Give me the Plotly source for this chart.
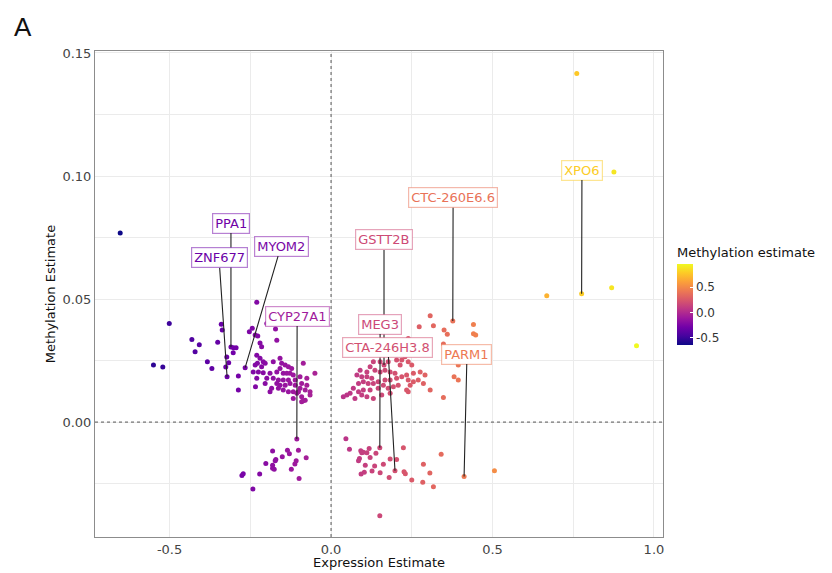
import plotly.graph_objects as go
from plotly.colors import sample_colorscale, unlabel_rgb

# ---- data: expression estimate (x) and methylation estimate (y) ----
expr = [
    -0.653, -0.501, -0.550, -0.521, -0.431, -0.408, -0.421, -0.383, -0.369, -0.351,
    -0.340, -0.337, -0.310, -0.302, -0.294, -0.303, -0.323, -0.317, -0.326, -0.322,
    -0.287, -0.287, -0.230, -0.244, -0.253, -0.227, -0.220, -0.215, -0.172, -0.168,
    -0.266, -0.234, -0.199, -0.235, -0.230, -0.220, -0.210, -0.228, -0.235, -0.215,
    -0.204, -0.179, -0.241, -0.225, -0.210, -0.189, -0.199, -0.230, -0.204, -0.158,
    -0.153, -0.142, -0.132, -0.122, -0.158, -0.168, -0.148, -0.137, -0.127, -0.117,
    -0.179, -0.163, -0.148, -0.132, -0.111, -0.168, -0.158, -0.142, -0.127, -0.111,
    -0.184, -0.163, -0.148, -0.132, -0.117, -0.101, -0.189, -0.086, -0.050, -0.075,
    -0.096, -0.091, -0.075, -0.080, -0.065, -0.096, -0.091, -0.080, -0.065, -0.106,
    -0.117, -0.091, -0.086, -0.106,
    -0.181, -0.171, -0.173, -0.202, -0.181, -0.181, -0.176, -0.151, -0.135, -0.129,
    -0.101, -0.077, -0.108, -0.112, -0.123, -0.099, -0.221, -0.276, -0.272, -0.242,
    0.307, 0.377, 0.273, 0.317, 0.350, 0.360, 0.441, 0.441, 0.448, 0.239,
    0.348, 0.394, 0.381, 0.394, 0.348, 0.236, 0.245, 0.229, 0.219, 0.239,
    0.203, 0.214, 0.250, 0.164, 0.177, 0.152, 0.131, 0.121, 0.111, 0.136,
    0.152, 0.167, 0.183, 0.198, 0.090, 0.080, 0.095, 0.111, 0.126, 0.100,
    0.085, 0.115, 0.131, 0.146, 0.167, 0.183, 0.203, 0.219, 0.234, 0.255,
    0.276, 0.291, 0.270, 0.286, 0.239, 0.245, 0.255, 0.234, 0.208, 0.193,
    0.177, 0.162, 0.146, 0.121, 0.100, 0.085, 0.069, 0.059, 0.049, 0.038,
    0.074, 0.095, 0.111, 0.131, 0.157, 0.183, 0.307, 0.239,
    0.046, 0.057, 0.092, 0.095, 0.100, 0.111, 0.118, 0.151, 0.139, 0.121,
    0.088, 0.085, 0.106, 0.135, 0.162, 0.183, 0.203, 0.224, 0.198, 0.127,
    0.152, 0.103, 0.093, 0.226, 0.230, 0.180, 0.250, 0.286, 0.306, 0.284,
    0.317, 0.341, 0.412, 0.506, 0.151,
    0.761, 0.876, 0.668, 0.776, 0.869, 0.946,
]
meth = [
    0.0768, 0.0401, 0.0232, 0.0224, 0.0336, 0.0314, 0.0286, 0.0245, 0.0218, 0.0324,
    0.0398, 0.0374, 0.0305, 0.0302, 0.0302, 0.0282, 0.0264, 0.0241, 0.0224, 0.0184,
    0.0187, 0.0130, 0.0487, 0.0381, 0.0367, 0.0350, 0.0321, 0.0306, 0.0378, 0.0333,
    0.0221, 0.0144, 0.0401, 0.0354, 0.0272, 0.0259, 0.0245, 0.0239, 0.0232, 0.0225,
    0.0239, 0.0245, 0.0204, 0.0204, 0.0200, 0.0198, 0.0178, 0.0178, 0.0157, 0.0259,
    0.0239, 0.0232, 0.0225, 0.0218, 0.0218, 0.0204, 0.0198, 0.0198, 0.0198, 0.0191,
    0.0178, 0.0171, 0.0171, 0.0171, 0.0171, 0.0157, 0.0150, 0.0150, 0.0157, 0.0150,
    0.0137, 0.0137, 0.0130, 0.0123, 0.0123, 0.0123, 0.0123, 0.0239, 0.0198, 0.0178,
    0.0184, 0.0157, 0.0150, 0.0130, 0.0123, 0.0137, 0.0103, 0.0089, 0.0110, 0.0117,
    0.0096, 0.0083, 0.0087, -0.0069,
    -0.0118, -0.0152, -0.0157, -0.0168, -0.0175, -0.0188, -0.0192, -0.0141, -0.0114, -0.0129,
    -0.0114, -0.0145, -0.0157, -0.0170, -0.0192, -0.0229, -0.0211, -0.0217, -0.0210, -0.0272,
    0.0432, 0.0411, 0.0387, 0.0391, 0.0374, 0.0357, 0.0397, 0.0359, 0.0354, 0.0340,
    0.0317, 0.0232, 0.0184, 0.0171, 0.0100, 0.0300, 0.0279, 0.0265, 0.0252, 0.0245,
    0.0252, 0.0232, 0.0232, 0.0232, 0.0245, 0.0245, 0.0245, 0.0225, 0.0204, 0.0211,
    0.0204, 0.0211, 0.0204, 0.0198, 0.0211, 0.0191, 0.0184, 0.0184, 0.0178, 0.0164,
    0.0157, 0.0157, 0.0157, 0.0164, 0.0171, 0.0171, 0.0178, 0.0184, 0.0191, 0.0198,
    0.0204, 0.0191, 0.0171, 0.0157, 0.0171, 0.0150, 0.0164, 0.0130, 0.0150, 0.0144,
    0.0137, 0.0150, 0.0137, 0.0130, 0.0130, 0.0123, 0.0137, 0.0117, 0.0110, 0.0103,
    0.0096, 0.0110, 0.0103, 0.0096, 0.0110, 0.0117, 0.0130, 0.0123,
    -0.0068, -0.0110, -0.0117, -0.0125, -0.0123, -0.0125, -0.0107, -0.0104, -0.0127, -0.0144,
    -0.0148, -0.0157, -0.0175, -0.0178, -0.0171, -0.0150, -0.0152, -0.0104, -0.0198, -0.0199,
    -0.0206, -0.0204, -0.0211, -0.0202, -0.0210, -0.0225, -0.0235, -0.0171, -0.0207, -0.0245,
    -0.0263, -0.0131, -0.0221, -0.0198, -0.0381,
    0.1417, 0.1016, 0.0513, 0.0522, 0.0546, 0.0310,
]

# labelled genes: point and label centre
genes = ["PPA1", "ZNF677", "MYOM2", "CYP27A1", "GSTT2B", "CTC-260E6.6",
         "MEG3", "CTA-246H3.8", "PARM1", "XPO6"]
gene_x = [-0.310, -0.322, -0.266, -0.106, 0.164, 0.377, 0.151, 0.198, 0.412, 0.776]
gene_y = [0.0305, 0.0184, 0.0221, -0.0069, 0.0232, 0.0411, -0.0104, -0.0198, -0.0221, 0.0522]
label_x = [-0.310, -0.347, -0.155, -0.105, 0.164, 0.378, 0.152, 0.176, 0.421, 0.777]
label_y = [0.0809, 0.0667, 0.0715, 0.0431, 0.0740, 0.0911, 0.0398, 0.0305, 0.0276, 0.1024]

x_ticks = [-0.5, 0.0, 0.5, 1.0]
x_ticklabels = ["-0.5", "0.0", "0.5", "1.0"]
y_ticks = [0.0, 0.05, 0.10, 0.15]
y_ticklabels = ["0.00", "0.05", "0.10", "0.15"]
cbar_ticks = [-0.5, 0.0, 0.5]
cbar_ticklabels = ["-0.5", "0.0", "0.5"]

cmin = min(expr)
cmax = max(expr)
FONT = "DejaVu Sans"

fig = go.Figure()
fig.add_trace(go.Scatter(
    x=expr, y=meth, mode="markers",
    marker=dict(size=5, color=expr, colorscale="Plasma", cmin=cmin, cmax=cmax,
                colorbar=dict(
                    title=dict(text="Methylation estimate", side="top",
                               font=dict(size=13, color="#111", family=FONT)),
                    x=1.0246, xanchor="left", y=0.602, yanchor="top",
                    lenmode="pixels", len=101, thickness=16,
                    outlinewidth=0, ypad=0, xpad=0,
                    tickvals=cbar_ticks, ticktext=cbar_ticklabels,
                    ticks="inside", ticklen=3, tickcolor="white",
                    tickfont=dict(size=12, color="#333", family=FONT),
                )),
    showlegend=False, hoverinfo="skip",
))

for g, px, py, lx, ly in zip(genes, gene_x, gene_y, label_x, label_y):
    col = sample_colorscale("Plasma", [(px - cmin) / (cmax - cmin)])[0]
    r, gg, b = unlabel_rgb(col)
    border = f"rgba({int(r)},{int(gg)},{int(b)},0.5)"
    fig.add_annotation(
        x=px, y=py, xref="x", yref="y",
        ax=lx, ay=ly, axref="x", ayref="y",
        text=g, showarrow=True, arrowhead=0, arrowwidth=1.1, arrowcolor="#222",
        font=dict(size=13, color=col, family=FONT),
        bgcolor="white", bordercolor=border, borderwidth=1.2, borderpad=2,
    )

# panel tag and axis titles
fig.add_annotation(text="A", xref="paper", yref="paper", x=-0.147, y=1.084,
                   xanchor="left", yanchor="top", showarrow=False,
                   font=dict(size=26, color="#111", family="Liberation Sans"))
fig.add_annotation(text="Expression Estimate", xref="paper", yref="paper",
                   x=0.5, y=-0.053, xanchor="center", yanchor="middle", showarrow=False,
                   font=dict(size=13, color="#111", family=FONT))
fig.add_annotation(text="Methylation Estimate", xref="paper", yref="paper",
                   x=-0.079, y=0.5, xanchor="center", yanchor="middle", showarrow=False,
                   textangle=-90, font=dict(size=13, color="#111", family=FONT))

# dotted reference lines
fig.add_shape(type="line", xref="x", yref="paper", x0=0, x1=0, y0=0, y1=1,
              line=dict(color="#555", width=1, dash="dot"))
fig.add_shape(type="line", xref="paper", yref="y", x0=0, x1=1, y0=0, y1=0,
              line=dict(color="#555", width=1, dash="dot"))

grid = "#ebebeb"
fig.update_xaxes(range=[-0.731, 1.028], tickvals=x_ticks, ticktext=x_ticklabels,
                 showgrid=True, gridcolor=grid, zeroline=False,
                 minor=dict(dtick=0.25, tick0=0, showgrid=True, gridcolor=grid),
                 showline=True, mirror=True, linecolor="#8c8c8c", linewidth=1,
                 ticks="",
                 tickfont=dict(size=13, color="#444", family=FONT),
                 automargin=False)
fig.update_yaxes(range=[-0.0467, 0.1508], tickvals=y_ticks, ticktext=y_ticklabels,
                 showgrid=True, gridcolor=grid, zeroline=False,
                 minor=dict(dtick=0.025, tick0=0, showgrid=True, gridcolor=grid),
                 showline=True, mirror=True, linecolor="#8c8c8c", linewidth=1,
                 ticks="",
                 tickfont=dict(size=13, color="#444", family=FONT),
                 automargin=False)

# page body has an 8px default margin, so the figure is sized to fit inside it
fig.update_layout(width=824, height=565,
                  margin=dict(l=87, r=169, t=43, b=36),
                  plot_bgcolor="white", paper_bgcolor="white",
                  font=dict(family=FONT))
fig.write_html("out.html")
